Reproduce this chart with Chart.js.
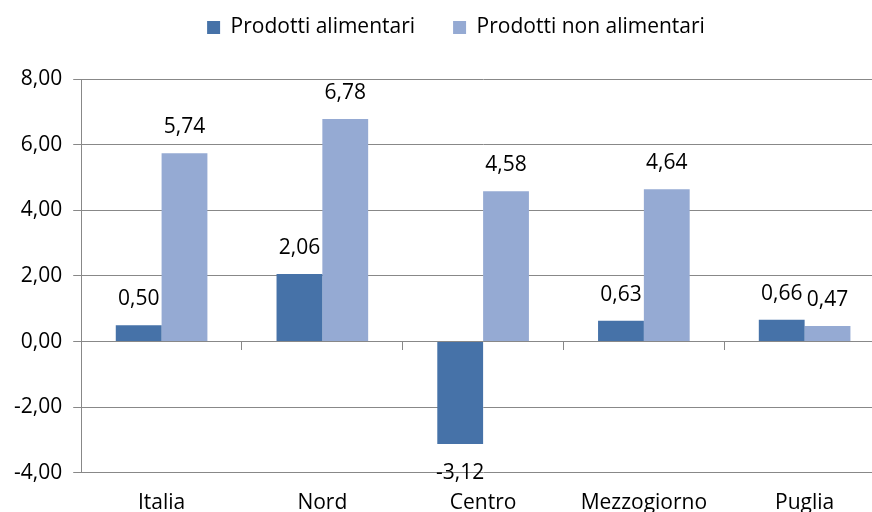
<!DOCTYPE html>
<html>
<head>
<meta charset="utf-8">
<title>Prodotti alimentari e non alimentari</title>
<script src="https://cdn.jsdelivr.net/npm/chart.js"></script>
<style>
  html, body { margin: 0; padding: 0; background: #fff; overflow: hidden; height: 512px; }
  #wrap { width: 890px; height: 526px; }
</style>
</head>
<body>
<div id="wrap"><canvas id="chart"></canvas></div>
<script>
const CATEGORIES = ['Italia', 'Nord', 'Centro', 'Mezzogiorno', 'Puglia'];
const ALIMENTARI = [0.50, 2.06, -3.12, 0.63, 0.66];
const NON_ALIMENTARI = [5.74, 6.78, 4.58, 4.64, 0.47];
const Y_MIN = -4, Y_MAX = 8, Y_STEP = 2;

const FONT = "'Open Sans', sans-serif";
const fmt = v => v.toFixed(2).replace('.', ',');

// value labels above bars (below for negatives)
const valueLabels = {
  id: 'valueLabels',
  afterDatasetsDraw(chart) {
    const ctx = chart.ctx;
    ctx.save();
    ctx.font = '21px ' + FONT;
    ctx.fillStyle = '#000';
    ctx.textAlign = 'center';
    ctx.textBaseline = 'middle';
    chart.data.datasets.forEach((ds, i) => {
      chart.getDatasetMeta(i).data.forEach((bar, j) => {
        const v = ds.data[j];
        const y = v < 0 ? bar.y + 29 : bar.y - 26;
        ctx.fillText(fmt(v), bar.x, y);
      });
    });
    ctx.restore();
  }
};

// fixed legend block height so the plot starts lower, legend nudged right
const legendTweak = {
  id: 'legendTweak',
  beforeInit(chart) {
    const legend = chart.legend;
    const fit = legend.fit;
    legend.fit = function () {
      fit.call(this);
      this.height = 100;
    };
    const draw = legend.draw;
    legend.draw = function () {
      const ctx = this.ctx;
      ctx.save();
      ctx.translate(12, 0);
      draw.call(this);
      ctx.restore();
    };
  }
};

new Chart(document.getElementById('chart'), {
  type: 'bar',
  data: {
    labels: CATEGORIES,
    datasets: [
      { label: 'Prodotti alimentari', data: ALIMENTARI, backgroundColor: '#4672a8', xAxisID: 'x' },
      { label: 'Prodotti non alimentari', data: NON_ALIMENTARI, backgroundColor: '#95aad3', xAxisID: 'x' }
    ]
  },
  options: {
    responsive: true,
    maintainAspectRatio: false,
    animation: false,
    layout: { padding: { left: 3, right: 5, top: -21, bottom: 0 } },
    datasets: { bar: { categoryPercentage: 0.57, barPercentage: 1 } },
    plugins: {
      legend: {
        position: 'top',
        labels: { font: { size: 21, family: FONT }, color: '#000', boxWidth: 13, boxHeight: 13, padding: 38 }
      },
      tooltip: { enabled: false }
    },
    scales: {
      x: {
        grid: { display: false },
        border: { display: false },
        ticks: { font: { size: 21, family: FONT }, color: '#000', padding: 10 }
      },
      x0: {
        type: 'category',
        labels: CATEGORIES,
        position: { y: 0 },
        grid: { offset: true, drawOnChartArea: false, tickLength: 8, color: '#888' },
        border: { color: '#888' },
        ticks: { display: false }
      },
      y: {
        min: Y_MIN, max: Y_MAX,
        ticks: { stepSize: Y_STEP, callback: v => fmt(v), font: { size: 21, family: FONT }, color: '#000', padding: 11 },
        grid: { color: '#888', tickLength: 8 },
        border: { color: '#888' }
      }
    }
  },
  plugins: [valueLabels, legendTweak]
});
</script>
</body>
</html>
